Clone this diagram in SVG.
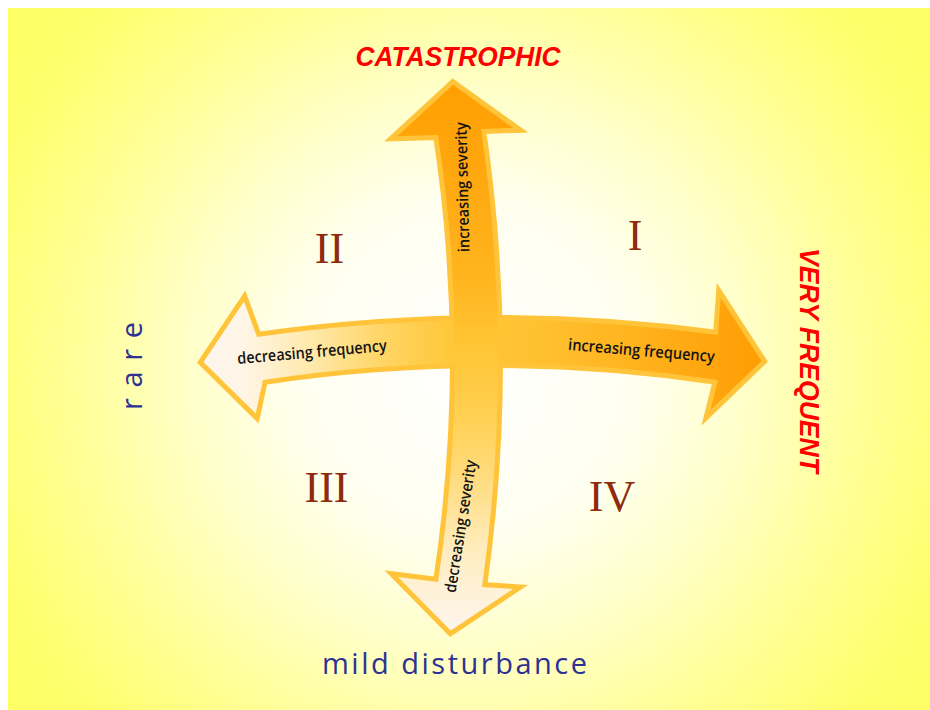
<svg xmlns="http://www.w3.org/2000/svg" width="930" height="710" viewBox="0 0 930 710">
  <defs>
    <radialGradient id="bg" gradientUnits="userSpaceOnUse" cx="468" cy="370" r="560">
      <stop offset="0" stop-color="#ffffff"/>
      <stop offset="0.3" stop-color="#fffff0"/>
      <stop offset="0.5" stop-color="#ffffc8"/>
      <stop offset="0.7" stop-color="#ffff98"/>
      <stop offset="0.9" stop-color="#ffff6e"/>
      <stop offset="1" stop-color="#ffff66"/>
    </radialGradient>
    <linearGradient id="hGrad" gradientUnits="userSpaceOnUse" x1="200" y1="0" x2="770" y2="0">
      <stop offset="0" stop-color="#fdf6f0"/>
      <stop offset="0.08" stop-color="#fff5e4"/>
      <stop offset="0.2" stop-color="#ffe8a8"/>
      <stop offset="0.32" stop-color="#ffd564"/>
      <stop offset="0.45" stop-color="#ffc636"/>
      <stop offset="0.6" stop-color="#ffc030"/>
      <stop offset="0.75" stop-color="#ffb41e"/>
      <stop offset="0.9" stop-color="#ffa50e"/>
      <stop offset="1" stop-color="#ff9c00"/>
    </linearGradient>
    <linearGradient id="vGrad" gradientUnits="userSpaceOnUse" x1="0" y1="80" x2="0" y2="635">
      <stop offset="0" stop-color="#ff9f00"/>
      <stop offset="0.15" stop-color="#ffa60e"/>
      <stop offset="0.35" stop-color="#ffb41e"/>
      <stop offset="0.48" stop-color="#ffc535"/>
      <stop offset="0.6" stop-color="#ffcf50"/>
      <stop offset="0.72" stop-color="#ffdc80"/>
      <stop offset="0.85" stop-color="#ffedc0"/>
      <stop offset="1" stop-color="#fdf6f0"/>
    </linearGradient>
    <path id="hArrow" d="M203.5 362 L244 301.5 L257 337 Q487 304 718 335 L720.7 298 L761.5 361 L710.5 410 L718 380 Q487 346 263 380 L255.7 413.6 Z"/>
    <path id="vArrow" d="M453 84.7 L513.3 128 L481 129 Q514.5 358 482 587 L513 589 L450.7 630.5 L398 577 L438 582 Q472 358 438 135 L397.3 136.2 Z"/>
  </defs>
  <style>
    .outline { fill: #ffc43a; stroke: #ffc43a; stroke-width: 10; stroke-linejoin: miter; stroke-miterlimit: 10; }
    .lbl { font-family: "Open Sans", "DejaVu Sans", sans-serif; font-size: 16px; font-weight: 600; fill: #141414; text-anchor: middle; }
    .num { font-family: "Liberation Serif", "Times New Roman", serif; font-size: 44px; fill: #8e2a0e; text-anchor: middle; }
    .red { font-family: "Liberation Sans", Arial, sans-serif; font-weight: bold; font-style: italic; font-size: 27px; fill: #ff0000; text-anchor: middle; }
    .blue { font-family: "Open Sans", "DejaVu Sans", sans-serif; font-size: 29px; font-weight: 500; fill: #2e3192; text-anchor: middle; }
  </style>

  <rect x="8" y="8" width="922" height="702" fill="url(#bg)"/>

  <g id="connectors">
    <use href="#hArrow" class="outline"/>
    <use href="#vArrow" class="outline"/>
    <use href="#hArrow" fill="url(#hGrad)"/>
    <use href="#vArrow" fill="url(#vGrad)"/>
  </g>

  <g id="arrow-labels">
    <text class="lbl" transform="translate(468 187) rotate(-91.3)" x="0" y="0" textLength="130" lengthAdjust="spacingAndGlyphs">increasing severity</text>
    <text class="lbl" transform="translate(466 527) rotate(-81)" x="0" y="0" textLength="134" lengthAdjust="spacingAndGlyphs">decreasing severity</text>
    <text class="lbl" transform="translate(312 352.5) rotate(-5)" x="0" y="5" textLength="150" lengthAdjust="spacingAndGlyphs">decreasing frequency</text>
    <text class="lbl" transform="translate(641.5 351) rotate(4.8)" x="0" y="5" textLength="147" lengthAdjust="spacingAndGlyphs">increasing frequency</text>
  </g>

  <g id="quadrant-I"><text class="num" x="635" y="250">I</text></g>
  <g id="quadrant-II"><text class="num" x="329.5" y="263">II</text></g>
  <g id="quadrant-III"><text class="num" x="326.5" y="502">III</text></g>
  <g id="quadrant-IV"><text class="num" x="612" y="511">IV</text></g>

  <g id="label-catastrophic">
    <text class="red" x="458" y="66" textLength="205" lengthAdjust="spacingAndGlyphs">CATASTROPHIC</text>
  </g>
  <g id="label-very-frequent">
    <text class="red" transform="translate(800 360.5) rotate(90)" x="0" y="0" textLength="225" lengthAdjust="spacingAndGlyphs">VERY FREQUENT</text>
  </g>
  <g id="label-rare">
    <text class="blue" transform="translate(142 366) rotate(-90)" x="0" y="0" font-size="28" textLength="88" lengthAdjust="spacing">rare</text>
  </g>
  <g id="label-mild-disturbance">
    <text class="blue" x="454.5" y="674" textLength="265" lengthAdjust="spacing">mild disturbance</text>
  </g>
</svg>
